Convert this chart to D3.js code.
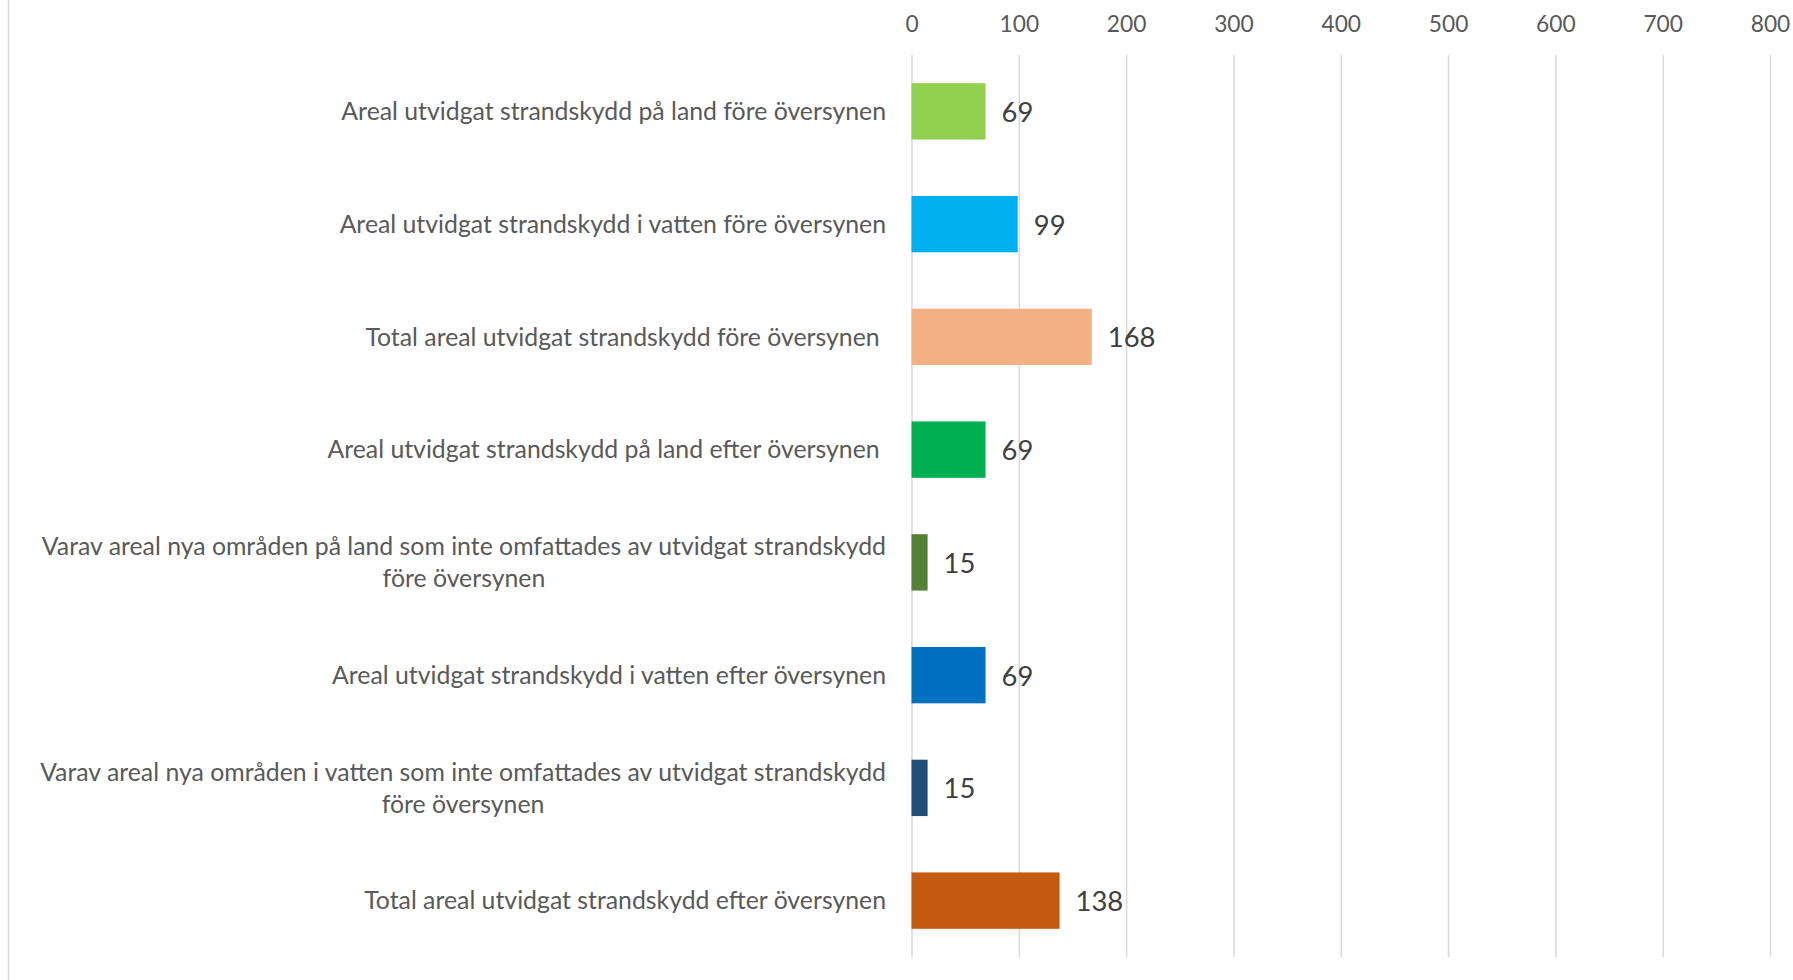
<!DOCTYPE html>
<html>
<head>
<meta charset="utf-8">
<script src="https://cdn.jsdelivr.net/npm/d3@7"></script>
<style>
  html, body { margin: 0; padding: 0; background: #fff; }
  svg { display: block; font-family: Lato, "Open Sans", sans-serif; }
  .cat text, .val { white-space: pre; }
</style>
</head>
<body>
<script>
// kategorier (\n = radbrytning som i originalet)
var categories = [
  'Areal utvidgat strandskydd på land före översynen',
  'Areal utvidgat strandskydd i vatten före översynen',
  'Total areal utvidgat strandskydd före översynen ',
  'Areal utvidgat strandskydd på land efter översynen ',
  'Varav areal nya områden på land som inte omfattades av utvidgat strandskydd\nföre översynen',
  'Areal utvidgat strandskydd i vatten efter översynen',
  'Varav areal nya områden i vatten som inte omfattades av utvidgat strandskydd\nföre översynen',
  'Total areal utvidgat strandskydd efter översynen'
];
var values = [69, 99, 168, 69, 15, 69, 15, 138];
var colors = ['#92D050', '#00B0F0', '#F4B183', '#00B050', '#538135', '#0070C0', '#1F4E79', '#C55A11'];
var xTicks = [0, 100, 200, 300, 400, 500, 600, 700, 800];

var width = 1793, height = 980;
var plotLeft = 911.5, plotRight = 1770, plotTop = 55, plotBottom = 957;

var svg = d3.select('body').append('svg').attr('width', width).attr('height', height);

// ram till vänster
svg.append('line')
   .attr('x1', 8.5).attr('x2', 8.5).attr('y1', 0).attr('y2', height)
   .attr('stroke', '#D9D9D9').attr('stroke-width', 1.5);

var x = d3.scaleLinear().domain([0, 800]).range([plotLeft, plotRight]);
var y = d3.scaleBand().domain(d3.range(categories.length)).range([plotTop, plotBottom])
          .paddingInner(0.5).paddingOuter(0.25);

// anpassa teckenstorlek så att etiketterna får samma bredd som i Excel
var probe = svg.append('text').attr('font-size', 24).text(categories[0]);
var k = 545 / probe.node().getComputedTextLength();
probe.remove();
var catSize = 24 * k, tickSize = 22 * k, valSize = 26.5 * k;

// axel + stödlinjer
var axis = svg.append('g')
   .attr('transform', 'translate(0,' + plotTop + ')')
   .call(d3.axisTop(x).tickValues(xTicks).tickSizeInner(-(plotBottom - plotTop)).tickSizeOuter(0).tickPadding(23));
axis.select('.domain').remove();
axis.selectAll('.tick line').attr('stroke', '#D9D9D9').attr('stroke-width', 1.5);
axis.selectAll('.tick text').attr('fill', '#595959').attr('font-size', tickSize)
    .attr('font-family', 'Lato, "Open Sans", sans-serif');

// staplar
svg.selectAll('rect.bar')
   .data(values)
   .enter()
   .append('rect')
   .attr('class', 'bar')
   .attr('x', x(0))
   .attr('y', function (d, i) { return y(i); })
   .attr('width', function (d) { return x(d) - x(0); })
   .attr('height', y.bandwidth())
   .attr('fill', function (d, i) { return colors[i]; });

// värdeetiketter
svg.selectAll('text.val')
   .data(values)
   .enter()
   .append('text')
   .attr('class', 'val')
   .attr('x', function (d) { return x(d) + 16; })
   .attr('y', function (d, i) { return y(i) + y.bandwidth() / 2; })
   .attr('dy', '0.38em')
   .attr('fill', '#404040')
   .attr('font-size', valSize)
   .text(function (d) { return d; });

// kategorietiketter, radbrutna centreras under första raden
var labelRight = 886;
var lineH = 32;
var cat = svg.append('g').attr('class', 'cat');
categories.forEach(function (c, i) {
  var lines = c.split('\n');
  var cy = y(i) + y.bandwidth() / 2;
  var t = cat.append('text')
     .attr('fill', '#595959')
     .attr('font-size', catSize);
  if (lines.length === 1) {
    t.attr('x', labelRight).attr('y', cy).attr('dy', '0.35em')
     .attr('text-anchor', 'end').text(c);
  } else {
    // mät första raden för att hitta mitten
    t.text(lines[0]);
    var w = t.node().getComputedTextLength();
    var mid = labelRight - w / 2;
    t.text(null).attr('text-anchor', 'middle');
    lines.forEach(function (l, j) {
      t.append('tspan')
       .attr('x', mid)
       .attr('y', cy + (j - (lines.length - 1) / 2) * lineH)
       .attr('dy', '0.35em')
       .text(l);
    });
  }
});
</script>
</body>
</html>
